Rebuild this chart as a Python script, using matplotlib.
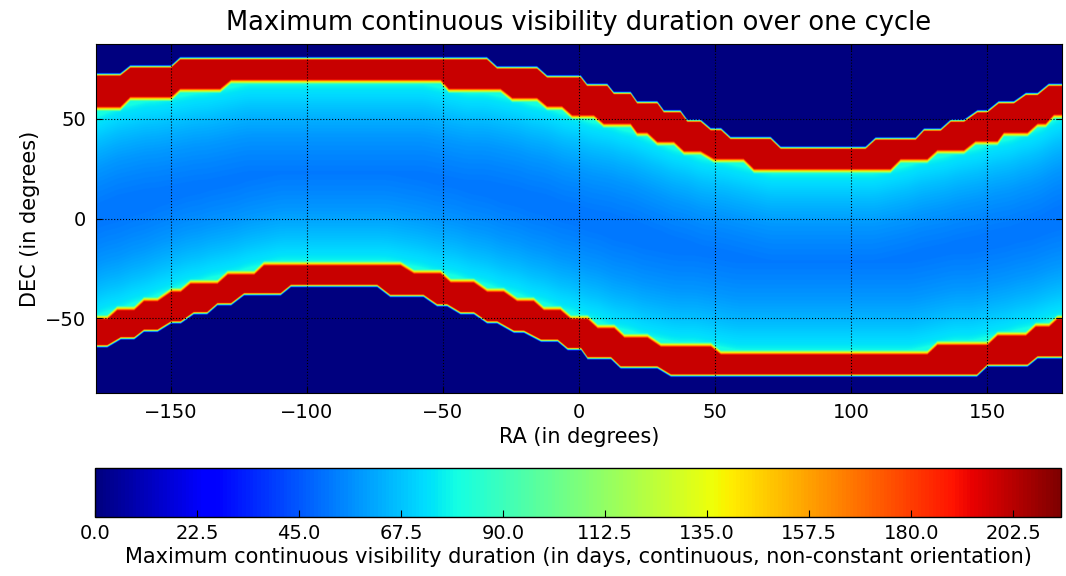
import numpy as np
import matplotlib
matplotlib.use("Agg")
import matplotlib.pyplot as plt

# ---- band edges (RA nodes in degrees, DEC in degrees) ----
# upper edge of the northern band
top_outer_ra = [-177.5, -168.7, -165.0, -150.0, -146.7, -34.0, -30.3, -15.6, -11.9, 0.4, 2.8, 10.2,
                12.6, 18.8, 21.2, 28.6, 31.0, 37.1, 39.6, 44.5, 48.2, 52.0, 55.5, 70.2, 73.9, 105.1,
                108.8, 123.5, 126.6, 132.7, 136.4, 141.3, 146.2, 149.9, 154.0, 159.6, 164.0, 168.3,
                172.4, 177.5]
top_outer_dec = [73.2, 73.2, 77.2, 77.2, 81.3, 81.3, 76.7, 76.7, 72.2, 72.2, 68.0, 68.0,
                 63.9, 63.9, 59.2, 59.2, 54.7, 54.7, 50.0, 50.0, 45.7, 45.7, 41.3, 41.3, 36.4, 36.4,
                 41.0, 41.0, 45.5, 45.5, 50.0, 50.0, 54.7, 54.7, 59.2, 59.2, 63.4, 63.4,
                 68.0, 68.0]

# lower edge of the northern band
top_inner_ra = [-177.5, -168.7, -165.0, -150.0, -146.7, -132.0, -128.0, -51.0, -48.0, -29.0,
                -24.7, -15.6, -11.9, -6.4, -2.7, 5.3, 8.9, 18.8, 21.2, 24.9, 28.6, 34.7, 38.4,
                44.5, 49.4, 60.3, 64.1, 114.3, 118.0, 127.8, 131.5, 141.3, 145.5, 149.9, 153.6,
                155.9, 164.6, 168.3, 171.3, 174.3, 177.5]
top_inner_dec = [53.9, 53.9, 58.9, 58.9, 63.0, 63.0, 67.5, 67.5, 63.0, 63.0,
                 58.4, 58.4, 54.2, 54.2, 49.7, 49.7, 45.5, 45.5, 41.0, 41.0, 36.4, 36.4, 31.7,
                 31.7, 27.8, 27.8, 22.7, 22.7, 27.7, 27.7, 32.2, 32.2, 36.7, 36.7, 36.7,
                 41.0, 41.0, 45.5, 45.5, 50.0, 50.0]

# upper edge of the southern band
bot_inner_ra = [-177.5, -173.5, -169.8, -163.6, -160.0, -155.0, -150.0, -146.5, -142.9, -133.0,
                -129.2, -119.5, -115.9, -65.7, -60.8, -51.0, -47.3, -38.8, -33.9, -27.8, -22.9,
                -16.8, -13.1, -7.0, -3.1, 3.0, 6.7, 12.8, 16.5, 25.0, 29.9, 48.3, 51.9, 127.8,
                131.5, 149.9, 153.6, 164.0, 167.6, 172.5, 175.6, 177.5]
bot_inner_dec = [-48.4, -48.4, -43.9, -43.9, -39.4, -39.4, -34.7, -34.7, -30.6, -30.6,
                 -26.0, -26.0, -21.4, -21.4, -25.5, -25.5, -30.0, -30.0, -34.7, -34.7, -39.4,
                 -39.4, -43.9, -43.9, -48.4, -48.4, -53.0, -53.0, -57.7, -57.7, -62.2, -62.2,
                 -66.1, -66.1, -61.4, -61.4, -56.7, -56.7, -52.2, -52.2, -48.4, -48.4]

# lower edge of the southern band
bot_outer_ra = [-177.5, -173.5, -168.5, -163.6, -160.0, -155.0, -150.0, -146.5, -141.7, -136.8,
                -133.0, -128.0, -123.2, -109.8, -106.0, -74.3, -69.5, -57.3, -52.3, -48.6,
                -43.7, -38.8, -33.9, -30.2, -24.1, -20.4, -14.1, -8.0, -4.3, 0.6, 3.0, 11.6,
                15.1, 28.6, 33.6, 146.0, 149.9, 164.6, 168.3, 177.5]
bot_outer_dec = [-65.0, -65.0, -61.0, -61.0, -57.2, -57.2, -53.0, -53.0, -48.4, -48.4,
                 -43.9, -43.9, -38.9, -38.9, -34.7, -34.7, -39.7, -39.7, -44.4, -44.4,
                 -48.4, -48.4, -53.0, -53.0, -57.7, -57.7, -62.2, -62.2, -66.4, -66.4, -71.0, -71.0,
                 -75.6, -75.6, -79.7, -79.7, -74.7, -74.7, -70.6, -70.6]

# ---- duration levels (days) ----
band_days = 199.0
# duration between the bands vs. distance (deg) from the nearest band
profile_dist = [0.0, 1.0, 3.0, 7.0, 12.0, 18.0, 26.0, 35.0, 45.0]
profile_days = [80.0, 77.0, 74.0, 71.0, 67.0, 63.0, 58.5, 55.0, 52.0]
vmax_days = 213.0

cbar_ticks = [0.0, 22.5, 45.0, 67.5, 90.0, 112.5, 135.0, 157.5, 180.0, 202.5]
ra_ticks = [-150, -100, -50, 0, 50, 100, 150]
dec_ticks = [-50, 0, 50]

# ---- sky grid ----
step = 0.25
ra = np.arange(-177.5, 177.5001, step)
dec = np.arange(-87.5, 87.5001, step)
RA, DEC = np.meshgrid(ra, dec)

t_out = np.interp(ra, top_outer_ra, top_outer_dec)[None, :]
t_in = np.interp(ra, top_inner_ra, top_inner_dec)[None, :]
b_in = np.interp(ra, bot_inner_ra, bot_inner_dec)[None, :]
b_out = np.interp(ra, bot_outer_ra, bot_outer_dec)[None, :]


def smooth_wrap(y, width_deg):
    """Running mean along RA, wrapping round the sky."""
    n = int(round(width_deg / step))
    k = np.ones(n) / n
    pad = np.concatenate([y[-n:], y, y[:n]])
    return np.convolve(pad, k, mode="same")[n:-n]


t_in_s = smooth_wrap(t_in[0], 16.0)[None, :]
b_in_s = smooth_wrap(b_in[0], 16.0)[None, :]

w_in, w_out = 2.4, 1.6

dist = np.clip(np.minimum(t_in_s - DEC, DEC - b_in_s), 0, None)
field = np.interp(dist, profile_dist, profile_days)

edge_val = profile_days[0]
# northern band
ramp_in = edge_val + np.clip((DEC - t_in) / w_in, 0, 1) * (band_days - edge_val)
ramp_out = np.clip((t_out - DEC) / w_out, 0, 1) * band_days
north = np.minimum(ramp_in, ramp_out)
field = np.where(DEC > t_in, north, field)
# southern band
ramp_in_s = edge_val + np.clip((b_in - DEC) / w_in, 0, 1) * (band_days - edge_val)
ramp_out_s = np.clip((DEC - b_out) / w_out, 0, 1) * band_days
south = np.minimum(ramp_in_s, ramp_out_s)
field = np.where(DEC < b_in, south, field)

# ---- figure ----
fig = plt.figure(figsize=(10.66, 5.76), dpi=100)
ax = fig.add_axes([0.0901, 0.3177, 0.9062, 0.6059])
im = ax.imshow(field, origin="lower", extent=[ra[0], ra[-1], dec[0], dec[-1]],
               aspect="auto", cmap="jet", vmin=0, vmax=vmax_days, interpolation="bilinear")
ax.set_xlim(-177.5, 177.5)
ax.set_ylim(-87.5, 87.5)
ax.set_xticks(ra_ticks)
ax.set_yticks(dec_ticks)
ax.tick_params(direction="in", top=True, right=True, labelsize=14, length=4, pad=7)
ax.grid(True, color="black", linestyle=":", linewidth=0.8)
ax.set_title("Maximum continuous visibility duration over one cycle", fontsize=18.5, pad=10)
ax.set_xlabel("RA (in degrees)", fontsize=15, labelpad=4)
ax.set_ylabel("DEC (in degrees)", fontsize=15, labelpad=4)

cax = fig.add_axes([0.0891, 0.1024, 0.9062, 0.0851])
cb = fig.colorbar(im, cax=cax, orientation="horizontal", ticks=cbar_ticks)
cb.ax.set_xticklabels([f"{t:.1f}" for t in cbar_ticks])
cb.ax.tick_params(direction="in", labelsize=14, length=5, pad=5)
cb.set_label("Maximum continuous visibility duration (in days, continuous, non-constant orientation)",
             fontsize=15, labelpad=3)
cb.outline.set_linewidth(1.0)

fig.savefig("out.png", dpi=100)
